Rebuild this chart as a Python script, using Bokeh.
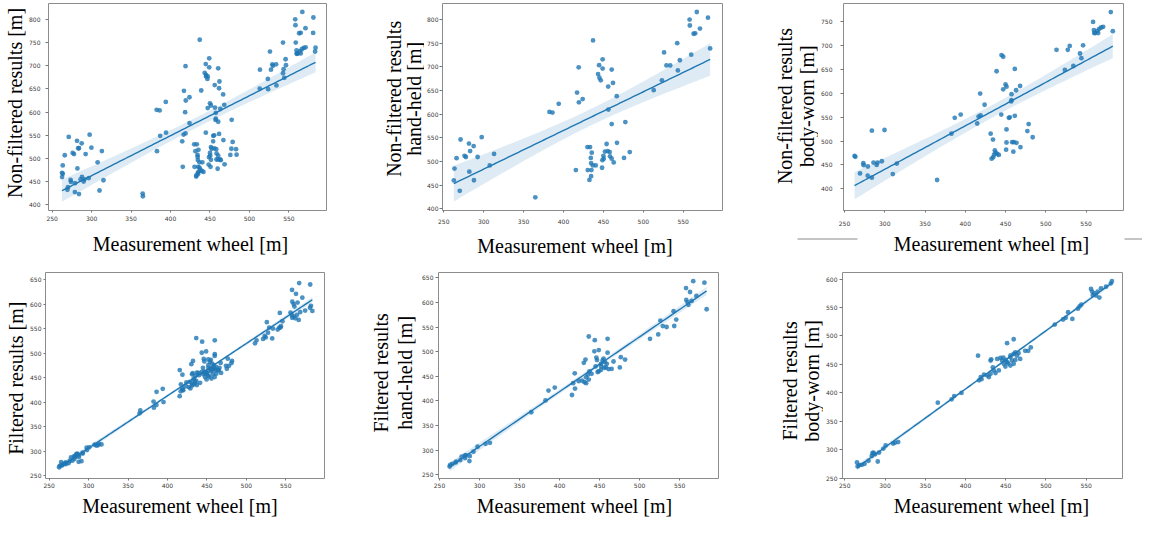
import numpy as np
from bokeh.plotting import figure
from bokeh.models import Range1d, SingleIntervalTicker
from bokeh.core.properties import value
from bokeh.layouts import row, column
from bokeh.embed import file_html
from bokeh.resources import INLINE

# ---------------- data ----------------
# hand-held, non-filtered
hh_raw_x = [262.6, 263.4, 266, 270, 271, 276, 277.7, 281.5, 282, 283, 287.4, 287.8, 292.4, 297.5, 307.6, 313,
            364.7, 382.4, 386.2, 394, 415.5, 417, 419, 419.3, 424,
            437, 444.6, 449, 449, 443.3, 445, 446.7, 460.4, 462, 456, 466.7, 456.25, 460.4, 477.5, 467, 454,
            430, 433.3, 435.4, 434.2, 434.6, 436.7, 440.4, 430.4, 435, 434.6, 432.5, 448.3, 450, 452, 455.4,
            457.9, 448.75, 450.4, 458.3, 460.4, 462.9, 475.8, 483,
            513, 523.3, 526, 529, 533.75, 542.5, 543.3, 545.8, 560, 558, 558.3, 563, 565, 567, 571, 581, 583.75]
hh_raw_y = [460, 485, 507, 438, 546.5, 512, 509.5, 538, 478.5, 522, 532.6, 460.4, 509.5, 551.4, 491.7, 516,
            424.3, 604.9, 603.5, 622, 482, 645.8, 699, 625, 632,
            756, 703.5, 716, 696.5, 684.7, 677, 671.5, 694.4, 666, 658.3, 638, 609.7, 579.2, 583.3, 539.6, 537,
            530.5, 530.5, 518.7, 507.6, 496.5, 491.7, 491.7, 482, 482, 469, 461, 486.8, 512, 521, 522,
            520, 502.8, 506, 511, 506, 498, 507.6, 520,
            650.7, 671.5, 730.5, 703, 703, 750, 692.4, 714, 725.7, 800, 787.5, 770, 771, 816, 781, 804, 739]

# body-worn, non-filtered
bw_raw_x = [262.5, 263.5, 269.3, 273.4, 273.8, 279, 278.8, 284, 284, 286, 289.9, 291, 296.4, 299.7, 310, 315,
            365, 382.8, 386.9, 394.3, 414.8, 416.5, 418.5, 424, 419,
            438.9, 445, 447.1, 461.5, 450, 451.2, 447.1, 468.1, 463.1, 457.4, 457.4, 457, 461.5, 455.3, 454.1,
            444.7, 451.2, 431.5, 434.4, 478.7, 477.1, 483.7, 451.2, 458.2, 460.3, 463.6, 468.5, 450.7, 459.7,
            436.7, 437.7, 435.7, 439.7, 441.7, 432.7, 434.7,
            513.3, 527.3, 529.7, 523.7, 534.2, 542.5, 544.2, 546.3, 558.7, 559.7, 561.4, 563.9, 566.4, 568.7,
            571.2, 560.1, 565, 580.7, 583.2]
bw_raw_y = [469, 467, 432.3, 453.6, 449.5, 446.8, 427.5, 423.3, 522, 455, 450.2, 455, 457.8, 523.3, 431, 453,
            418.5, 515.7, 548.8, 555.7, 537, 551.5, 599.8, 576.3, 554,
            646.6, 680.4, 677, 651.4, 619, 614.2, 608.7, 615.6, 606.7, 598.4, 586, 583.2, 553, 550, 548.8,
            555.6, 524.6, 515.7, 503.3, 535.7, 521, 508.1, 497.1, 497.8, 497.8, 496.4, 487.4, 482, 477.8,
            480.5, 475.7, 471.6, 473, 471, 463.3, 466,
            691.4, 691.4, 699.7, 649.4, 657.6, 683.8, 674, 701, 750, 733, 726.6, 731.4, 735.5, 738.3,
            739.7, 726.6, 726.6, 770.7, 730.7]

# hand-held, filtered
hh_filt_x = [262.6, 263.4, 266, 270, 271, 276, 277.7, 281.5, 282, 283, 287.4, 287.8, 292.4, 297.5, 307.6, 313,
             364.7, 382.4, 386.2, 394, 415.5, 417, 419, 419.3, 424,
             436.5, 444, 460, 443.5, 449, 460, 432.4, 430.3, 446, 446.8, 455, 453.8, 456.7, 451.8, 459, 467.4,
             476.5, 481.9, 475.3, 461.2, 455.9, 451.8, 447.6, 437.3, 435.3, 433.2, 436.5, 428.2, 433.2, 431.1,
             440, 445, 452, 458, 449, 465,
             513, 523.3, 526, 529, 533.75, 542.5, 543.3, 545.8, 558, 558.3, 560, 561, 563, 565, 567, 571, 581, 583.75]
hh_filt_y = [267, 270, 272, 275, 277, 280, 287, 289, 284, 290, 278, 288, 297, 307, 313, 315,
             377, 401, 421, 427, 412, 436, 456, 425, 440,
             530.7, 523.3, 526, 500.7, 503.3, 498, 484, 477.3, 488, 483, 486, 482, 478.7, 475.3, 475.3, 480,
             488.7, 484, 468, 464.7, 467.3, 463.3, 458.7, 460, 453.3, 448, 443.3, 441.3, 436, 438,
             455, 470, 470, 468, 460, 465,
             526, 535, 563, 552, 550, 582, 552, 565, 629, 605, 600, 595, 621, 603, 643, 613, 640, 586]

# body-worn, filtered
bw_filt_x = [265.2, 266, 268, 271.3, 274.6, 279.5, 283.6, 284.4, 285.7, 287.7, 291, 292.6, 298, 300.8, 310, 312.3, 316.4,
             365.6, 382.8, 386, 395,
             415.6, 451.7, 459.9, 431.2, 432, 439.4, 443.5, 445.5, 447.6, 449.6, 451.7, 455.8, 459.9, 461.9, 464,
             468, 474.2, 481.2, 457.8, 459.9, 455.8, 435.3, 431.2, 437.3, 441.4, 427.1, 429.1, 418.9, 416.8,
             450, 453, 462, 466, 478, 420, 423, 434, 447, 456,
             511, 521.3, 524.6, 527.5, 532.8, 539.8, 541.8, 543.9, 556, 557.4, 558.2, 560.2, 562.3, 564.3, 566.4,
             568.4, 574.6, 580.7, 582]
bw_filt_y = [277.6, 270.7, 273, 273.6, 275.3, 280.5, 289, 294, 295, 292, 279.4, 295, 302, 307.7, 311, 312.3, 313.5,
             382.8, 388.6, 394.3, 400,
             465.4, 487.3, 494.3, 456.7, 459, 459.6, 461.4, 456.7, 451, 446.3, 454, 462.5, 468.3, 471.2, 465.4,
             459.6, 474, 479.8, 456.7, 451, 448, 439.4, 433.6, 434.8, 439.4, 430.7, 427.8, 427.8, 422,
             458, 452, 458, 470, 474, 424, 432, 445, 462, 466,
             520, 529, 532, 541.7, 530, 548, 552, 555, 582.7, 578, 572, 575, 571, 578, 567.6,
             583.8, 586.7, 592.5, 596.5]

x_label = "Measurement wheel [m]"
y_label_lines = [["Non-filtered results [m]"],
                 ["Non-filtered results", "hand-held [m]"],
                 ["Non-filtered results", "body-worn [m]"],
                 ["Filtered results [m]"],
                 ["Filtered results", "hand-held [m]"],
                 ["Filtered results", "body-worn [m]"]]

BLUE = "#1f77b4"
SERIF = "Liberation Serif"
PAGE = 8          # body margin
FULL_W = 1142     # usable width


def text_strip(width, height, texts, rotated=False, lines=()):
    """A blank figure in pixel units that only carries the axis titles."""
    p = figure(width=width, height=height, output_backend="svg", toolbar_location=None,
               x_range=Range1d(0, width), y_range=Range1d(height, 0),
               x_axis_type=None, y_axis_type=None,
               min_border_left=0, min_border_right=0, min_border_top=0, min_border_bottom=0)
    p.outline_line_color = None
    p.background_fill_color = "white"
    p.border_fill_color = "white"
    if texts:
        p.text(x=[t[0] for t in texts], y=[t[1] for t in texts], text=[t[2] for t in texts],
               angle=(np.pi / 2 if rotated else 0), text_align="center", text_baseline="alphabetic",
               text_font=value(SERIF), text_font_size=value("20px"), text_color="black")
    for (xa, xb, yy) in lines:
        p.segment(x0=[xa], y0=[yy], x1=[xb], y1=[yy], line_color="#8a8a8a", line_width=1)
    return p


def make_panel(xs, ys, fig_x, fig_y, width, height, frame, xcal, ycal,
               ytick_out, ytick_stand, xtick_stand):
    """frame: (left, right, top, bottom) page pixels; xcal/ycal: (value_a, px_a, value_b, px_b)."""
    fl, fr, ft, fb = frame
    mbl, mbr = fl - fig_x, fig_x + width - fr
    mbt, mbb = ft - fig_y, fig_y + height - fb
    va, pa, vb, pb = xcal
    kx = (vb - va) / (pb - pa)
    x0, x1 = va + (fl - pa) * kx, va + (fr - pa) * kx
    va, pa, vb, pb = ycal
    ky = (vb - va) / (pb - pa)
    y1, y0 = va + (ft - pa) * ky, va + (fb - pa) * ky

    xs = np.asarray(xs, float)
    ys = np.asarray(ys, float)
    p = figure(width=width, height=height, output_backend="svg", toolbar_location=None,
               x_range=Range1d(x0, x1), y_range=Range1d(y0, y1),
               min_border_left=mbl, min_border_right=mbr,
               min_border_top=mbt, min_border_bottom=mbb)
    p.background_fill_color = "white"
    p.border_fill_color = "white"
    p.outline_line_color = "#8c8c8c"
    p.outline_line_width = 1
    p.grid.visible = False
    for ax in (p.xaxis, p.yaxis):
        ax.axis_line_color = None
        ax.major_tick_line_color = "#777777"
        ax.major_tick_in = 0
        ax.minor_tick_line_color = None
        ax.major_label_text_font = "DejaVu Sans"
        ax.major_label_text_font_size = "6px"
        ax.major_label_text_color = "#3a3a3a"
    p.xaxis.ticker = SingleIntervalTicker(interval=50)
    p.yaxis.ticker = SingleIntervalTicker(interval=50)
    p.xaxis.major_tick_out = 2
    p.xaxis.major_label_standoff = xtick_stand
    p.yaxis.major_tick_out = ytick_out
    p.yaxis.major_label_standoff = ytick_stand

    # regression line + 95% confidence band (computed from the data)
    slope, intercept = np.polyfit(xs, ys, 1)
    n = len(xs)
    resid = ys - (slope * xs + intercept)
    s = np.sqrt(np.sum(resid ** 2) / (n - 2))
    xbar = xs.mean()
    sxx = np.sum((xs - xbar) ** 2)
    g = np.linspace(xs.min(), xs.max(), 120)
    yh = slope * g + intercept
    se = s * np.sqrt(1.0 / n + (g - xbar) ** 2 / sxx)
    p.varea(x=g, y1=yh - 1.98 * se, y2=yh + 1.98 * se, fill_color=BLUE, fill_alpha=0.15)
    p.scatter(xs, ys, size=4.8, fill_color=BLUE, fill_alpha=0.8, line_color=None)
    p.line(g, yh, line_color=BLUE, line_width=1.4)
    return p


all_raw_x = hh_raw_x + bw_raw_x
all_raw_y = hh_raw_y + bw_raw_y
all_filt_x = hh_filt_x + bw_filt_x
all_filt_y = hh_filt_y + bw_filt_y

# ---- vertical bands (page pixels) ----
TOP_Y, TOP_H = PAGE, 228          # top plots 8..236
TSTRIP_Y, TSTRIP_H = 236, 30      # top x titles 236..266
BOT_Y, BOT_H = 266, 232           # bottom plots 266..498
BSTRIP_Y, BSTRIP_H = 498, 27      # bottom x titles 498..525

# ---- top row ----
ys1 = text_strip(26, TOP_H, [(22 - 8, 117.5 - TOP_Y, y_label_lines[0][0])], rotated=True)
f1 = make_panel(all_raw_x, all_raw_y, 34, TOP_Y, 332, TOP_H, (53, 334, 9, 218),
                (250, 56.7, 550, 296), (800, 25, 400, 212.3), 3, 4, 1)
ys2 = text_strip(66, TOP_H, [(401 - 366, 113 - TOP_Y, y_label_lines[1][0]),
                             (421.5 - 366, 113 - TOP_Y, y_label_lines[1][1])], rotated=True)
f2 = make_panel(hh_raw_x, hh_raw_y, 432, TOP_Y, 328, TOP_H, (447, 730, 11, 221),
                (250, 448.3, 550, 690.3), (800, 27.3, 400, 219.3), 3, 0, 4)
ys3 = text_strip(66, TOP_H, [(792 - 760, 121 - TOP_Y, y_label_lines[2][0]),
                             (814 - 760, 121 - TOP_Y, y_label_lines[2][1])], rotated=True)
f3 = make_panel(bw_raw_x, bw_raw_y, 826, TOP_Y, 324, TOP_H, (849, 1131, 8, 218),
                (250, 850, 550, 1093.3), (750, 26.7, 400, 196), 3, 7, 6)

tstrip = text_strip(FULL_W, TSTRIP_H,
                    [(198 - PAGE, 251.5 - TSTRIP_Y, x_label),
                     (582.5 - PAGE, 253.5 - TSTRIP_Y, x_label),
                     (999 - PAGE, 251.5 - TSTRIP_Y, x_label)],
                    lines=[(805 - PAGE, 865 - PAGE, 246.5 - TSTRIP_Y),
                           (1132 - PAGE, FULL_W, 246.5 - TSTRIP_Y)])

# ---- bottom row ----
ys4 = text_strip(27, BOT_H, [(23 - 8, 385 - BOT_Y, y_label_lines[3][0])], rotated=True)
f4 = make_panel(all_filt_x, all_filt_y, 35, BOT_Y, 331, BOT_H, (49, 332, 277, 489),
                (250, 52.7, 550, 292.7), (650, 284.3, 250, 486), 2, 0, 0)
ys5 = text_strip(61, BOT_H, [(388 - 366, 379 - BOT_Y, y_label_lines[4][0]),
                             (412 - 366, 379 - BOT_Y, y_label_lines[4][1])], rotated=True)
f5 = make_panel(hh_filt_x, hh_filt_y, 427, BOT_Y, 333, BOT_H, (443, 726, 280, 489),
                (250, 444, 550, 686.7), (650, 285.3, 250, 485.3), 3, 1, 0)
ys6 = text_strip(71, BOT_H, [(797 - 760, 388 - BOT_Y, y_label_lines[5][0]),
                             (819 - 760, 388 - BOT_Y, y_label_lines[5][1])], rotated=True)
f6 = make_panel(bw_filt_x, bw_filt_y, 831, BOT_Y, 319, BOT_H, (847, 1130, 280, 489),
                (250, 849.3, 550, 1093.3), (600, 286.7, 250, 488.7), 3, 1, 0)

bstrip = text_strip(FULL_W, BSTRIP_H,
                    [(187.5 - PAGE, 513 - BSTRIP_Y, x_label),
                     (582 - PAGE, 513 - BSTRIP_Y, x_label),
                     (999 - PAGE, 513 - BSTRIP_Y, x_label)])

layout = column(row(ys1, f1, ys2, f2, ys3, f3), tstrip,
                row(ys4, f4, ys5, f5, ys6, f6), bstrip)

open("out.html", "w").write(file_html(layout, INLINE))
